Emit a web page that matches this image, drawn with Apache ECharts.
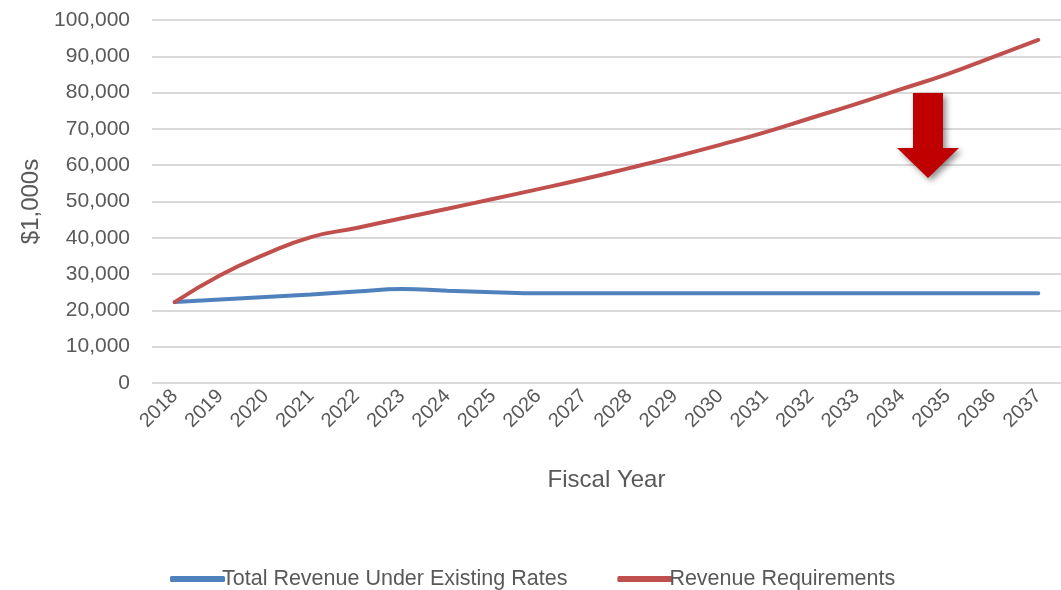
<!DOCTYPE html>
<html><head><meta charset="utf-8">
<script src="https://cdn.jsdelivr.net/npm/echarts@6/dist/echarts.min.js"></script>
<style>html,body{margin:0;padding:0;background:#fff}#c{width:1061px;height:590px}</style>
</head><body><div id="c"></div>
<script>
var years = ['2018','2019','2020','2021','2022','2023','2024','2025','2026','2027','2028','2029','2030','2031','2032','2033','2034','2035','2036','2037'];
var existingRevenue = [22300,23000,23700,24400,25200,25900,25400,25000,24700,24700,24700,24700,24700,24700,24700,24700,24700,24700,24700,24700];
var revenueRequirements = [22300,29700,35500,40200,42700,45400,48000,50700,53400,56200,59200,62300,65600,69100,73000,76900,81000,85100,89800,94500];
var yTicks = {min:0, max:100000, interval:10000};

var chart = echarts.init(document.getElementById('c'), null, {renderer:'canvas'});
var font = 'Liberation Sans, Arial, sans-serif';
chart.setOption({
  animation:false,
  grid:{left:152, right:0, top:20, bottom:207, containLabel:false},
  xAxis:{type:'category', data:years, boundaryGap:true,
    axisLine:{show:false}, axisTick:{show:false},
    axisLabel:{rotate:45, color:'#595959', fontFamily:font, fontSize:20, margin:10},
    name:'Fiscal Year', nameLocation:'middle', nameGap:85,
    nameTextStyle:{color:'#595959', fontFamily:font, fontSize:24}},
  yAxis:{type:'value', min:yTicks.min, max:yTicks.max, interval:yTicks.interval,
    axisLine:{show:false}, axisTick:{show:false},
    splitLine:{lineStyle:{color:'#d9d9d9', width:2}},
    axisLabel:{color:'#595959', fontFamily:font, fontSize:21, margin:22,
      formatter:function(v){return v.toLocaleString('en-US');}},
    name:'$1,000s', nameLocation:'middle', nameGap:105, nameRotate:90,
    nameTextStyle:{color:'#595959', fontFamily:font, fontSize:24}},
  legend:{top:563, left:165, itemWidth:55, itemHeight:6, itemGap:50,
    icon:'roundRect',
    textStyle:{color:'#595959', fontFamily:font, fontSize:21.5, padding:[0,0,0,-8]},
    data:['Total Revenue Under Existing Rates','Revenue Requirements']},
  series:[
    {name:'Total Revenue Under Existing Rates', type:'line', smooth:true, symbol:'none',
     data:existingRevenue, lineStyle:{color:'#4F81BD', width:4, cap:'round'}, itemStyle:{color:'#4F81BD'}},
    {name:'Revenue Requirements', type:'line', smooth:true, symbol:'none',
     data:revenueRequirements, lineStyle:{color:'#C0504D', width:4, cap:'round'}, itemStyle:{color:'#C0504D'}}
  ],
  graphic:[{type:'polygon', z:100, shape:{points:[[913,93],[943,93],[943,148],[959,148],[928,178],[897,148],[913,148]]},
    style:{fill:'#C00000', shadowBlur:6, shadowOffsetX:3, shadowOffsetY:3, shadowColor:'rgba(0,0,0,0.45)'}}]
});
</script></body></html>
